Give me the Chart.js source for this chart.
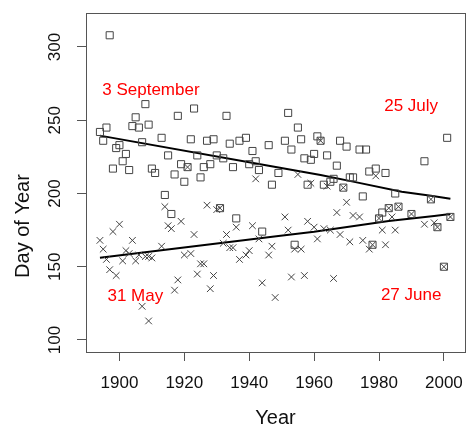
<!DOCTYPE html>
<html>
<head>
<meta charset="utf-8">
<script src="https://cdn.jsdelivr.net/npm/chart.js@4/dist/chart.umd.min.js"></script>
<style>
  html, body { margin: 0; padding: 0; background: #fff; }
  #c { display: block; }
</style>
</head>
<body>
<canvas id="c" width="466" height="427"></canvas>
<script>
// ============ DATOS ============
const sqYears = [1894,1895,1896,1897,1898,1899,1900,1901,1902,1903,1904,1905,1906,1907,1908,1909,1910,1911,1913,1914,
  1915,1916,1917,1918,1919,1920,1921,1922,1923,1924,1925,1926,1927,1928,1929,1930,1931,1932,1933,1934,
  1935,1936,1937,1939,1940,1941,1942,1943,1944,1946,1947,1949,1951,1952,1953,1954,1955,1956,1957,1958,
  1959,1960,1961,1962,1963,1964,1965,1966,1967,1968,1969,1970,1971,1972,1974,1975,1976,1977,1978,1979,
  1980,1981,1982,1983,1985,1986,1990,1994,1996,1998,2000,2001,2002];
const sqDays = [242,236,245,308,217,231,233,222,227,216,246,252,245,235,261,247,217,214,238,199,
  226,186,213,253,220,208,218,237,258,226,211,218,236,220,237,226,190,224,253,234,
  218,183,236,238,220,229,222,216,174,233,206,214,236,255,230,165,245,237,224,206,
  223,227,239,236,206,226,208,210,219,236,204,232,211,211,230,198,230,215,165,217,
  183,187,214,190,200,191,186,222,196,177,150,238,184];

const xYears = [1894,1895,1896,1897,1898,1899,1900,1901,1902,1903,1904,1905,1906,1907,1908,1909,1909,1910,1913,1914,
  1915,1916,1917,1918,1919,1920,1921,1922,1923,1924,1925,1926,1927,1928,1929,1930,1931,1932,1933,1934,
  1935,1936,1937,1939,1940,1941,1942,1943,1944,1946,1947,1948,1951,1952,1953,1954,1955,1956,1957,1958,
  1959,1960,1961,1962,1963,1964,1965,1966,1967,1968,1969,1970,1971,1972,1974,1975,1977,1978,1979,1980,
  1981,1982,1983,1984,1985,1986,1990,1994,1996,1997,1998,2000,2002];
const xDays = [168,162,155,148,174,144,179,154,161,159,168,154,158,123,157,113,157,156,164,191,
  178,176,134,141,181,158,218,159,172,145,152,152,192,135,144,189,190,166,172,163,
  163,177,155,158,161,178,210,169,139,158,164,129,184,175,143,162,213,162,144,181,
  207,177,169,236,176,205,175,142,187,172,204,194,167,185,184,168,162,165,212,183,
  175,165,190,184,175,191,186,179,196,180,177,150,184];

// líneas de tendencia (suavizado)
const upYears = [1894,1946,1962,1972,1987,1996,2002];
const upDays = [239.5,219,212.6,208.1,201.2,198.5,196.4];
const lowYears = [1894,1949,1960,1983,1997,2002];
const lowDays = [156.2,171.0,173.9,181.2,184.6,186.0];

const xTicks = [1900,1920,1940,1960,1980,2000];
const yTicks = [100,150,200,250,300];

const noteTexts = ['3 September','25 July','31 May','27 June'];
const noteYears = [1909.7,1989.9,1904.9,1989.9];
const noteDays = [270.2,259.7,130.0,130.2];

const FONT = "'Liberation Sans', Arial, sans-serif";
const zip = (xs, ys) => xs.map((x, i) => ({ x, y: ys[i] }));

// ============ PLUGINS ============
const bgPlugin = {
  id: 'bg',
  beforeDraw(chart) {
    const c = chart.ctx;
    c.save(); c.fillStyle = '#fff'; c.fillRect(0, 0, chart.width, chart.height); c.restore();
  }
};
const framePlugin = {
  id: 'frame',
  afterDraw(chart) {
    const { ctx, chartArea: a } = chart;
    ctx.save();
    ctx.strokeStyle = '#555'; ctx.lineWidth = 1;
    ctx.strokeRect(Math.round(a.left) + 0.5, Math.round(a.top) + 0.5, Math.round(a.right - a.left), Math.round(a.bottom - a.top));
    ctx.restore();
  }
};
const notesPlugin = {
  id: 'notes',
  afterDatasetsDraw(chart) {
    const { ctx, scales } = chart;
    ctx.save();
    ctx.fillStyle = '#ff0000';
    ctx.font = '17px ' + FONT;
    ctx.textAlign = 'center'; ctx.textBaseline = 'middle';
    noteTexts.forEach((t, i) => {
      ctx.fillText(t, scales.x.getPixelForValue(noteYears[i]), scales.y.getPixelForValue(noteDays[i]));
    });
    // título del eje Y (desplazado como en el original)
    ctx.fillStyle = '#111';
    ctx.font = '20px ' + FONT;
    ctx.translate(23, 226);
    ctx.rotate(-Math.PI / 2);
    ctx.fillText('Day of Year', 0, 0);
    ctx.restore();
  }
};

// ============ GRÁFICO ============
new Chart(document.getElementById('c'), {
  type: 'scatter',
  data: {
    datasets: [
      { label: 'otoño', data: zip(sqYears, sqDays), pointStyle: 'rect', pointRadius: 5,
        borderColor: '#444', backgroundColor: 'rgba(0,0,0,0)', borderWidth: 1 },
      { label: 'primavera', data: zip(xYears, xDays), pointStyle: 'crossRot', pointRadius: 4.7,
        borderColor: '#444', backgroundColor: 'rgba(0,0,0,0)', borderWidth: 1 },
      { type: 'line', label: 'tend1', data: zip(upYears, upDays), borderColor: '#000', borderWidth: 2,
        pointRadius: 0, fill: false, tension: 0 },
      { type: 'line', label: 'tend2', data: zip(lowYears, lowDays), borderColor: '#000', borderWidth: 2,
        pointRadius: 0, fill: false, tension: 0 }
    ]
  },
  options: {
    responsive: false, animation: false, devicePixelRatio: 1,
    layout: { autoPadding: false, padding: { top: 13, right: 1, left: 0, bottom: 0 } },
    plugins: { legend: { display: false }, tooltip: { enabled: false } },
    scales: {
      x: {
        type: 'linear', min: 1889.7, max: 2006.5,
        afterBuildTicks: s => { s.ticks = xTicks.map(v => ({ value: v })); },
        afterFit: s => { s.height = 75; s.paddingLeft = 0; s.paddingRight = 0; },
        grid: { drawOnChartArea: false, drawTicks: true, tickLength: 9, color: '#555' },
        border: { display: true, color: '#555', width: 1 },
        ticks: { color: '#111', font: { family: FONT, size: 17 }, padding: 12, maxRotation: 0, callback: v => String(v) },
        title: { display: true, text: 'Year', color: '#111', font: { family: FONT, size: 20 }, padding: { top: 4, bottom: -3 } }
      },
      y: {
        type: 'linear', min: 91.8, max: 323.2,
        afterBuildTicks: s => { s.ticks = yTicks.map(v => ({ value: v })); },
        afterFit: s => { s.width = 86; s.paddingTop = 0; s.paddingBottom = 0; },
        grid: { drawOnChartArea: false, drawTicks: true, tickLength: 9, color: '#555' },
        border: { display: true, color: '#555', width: 1 },
        ticks: { color: '#111', font: { family: FONT, size: 17 }, padding: 8, minRotation: 90, maxRotation: 90,
          crossAlign: 'center', callback: v => String(v) }
      }
    }
  },
  plugins: [bgPlugin, framePlugin, notesPlugin]
});
</script>
</body>
</html>
